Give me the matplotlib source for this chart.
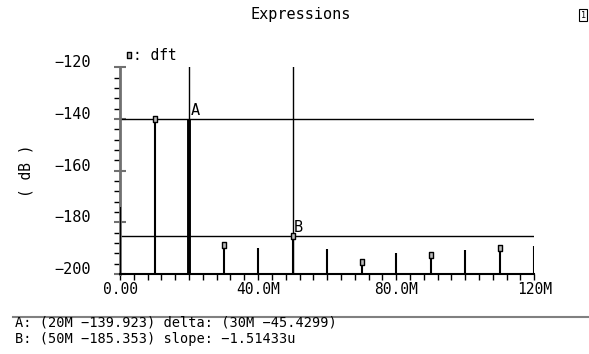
import matplotlib
matplotlib.use("Agg")
import matplotlib.pyplot as plt
from matplotlib.path import Path
import numpy as np

# ---- data ----
freq_mhz = [0, 10, 20, 30, 40, 50, 60, 70, 80, 90, 100, 110, 120]
dft_db = [-174.0, -140.2, -139.923, -188.6, -189.8, -185.353, -190.5,
          -195.3, -191.9, -192.5, -190.8, -190.0, -189.2]
marker_freqs = [10, 30, 50, 70, 90, 110]
cursor_a = (20, -139.923)
cursor_b = (50, -185.353)
x_ticks = [0, 40, 80, 120]
x_ticklabels = ["0.00", "40.0M", "80.0M", "120M"]
y_ticks = [-200, -180, -160, -140, -120]
y_ticklabels = ["\u2212200", "\u2212180", "\u2212160", "\u2212140", "\u2212120"]
readout_a = "A: (20M \u2212139.923) delta: (30M \u221245.4299)"
readout_b = "B: (50M \u2212185.353) slope: \u22121.51433u"

FONT = "DejaVu Sans Mono"
plt.rcParams['font.family'] = [FONT]

W, H = 589, 354
fig = plt.figure(figsize=(W / 100, H / 100), dpi=100)
ax = fig.add_axes([120 / W, 80 / H, (534.3 - 120) / W, (286.7 - 80) / H])
ax.set_xlim(0, 120)
ax.set_ylim(-200, -120)

# stems
ax.vlines(freq_mhz, -200, dft_db, colors="black", lw=1.5, zorder=3)
# markers
rect = Path([(-0.5, -1), (0.5, -1), (0.5, 1), (-0.5, 1), (-0.5, -1)],
            [Path.MOVETO, Path.LINETO, Path.LINETO, Path.LINETO, Path.CLOSEPOLY])
mvals = [dft_db[freq_mhz.index(f)] for f in marker_freqs]
ax.plot(marker_freqs, mvals, ls="none", marker=rect, ms=5, mfc="#bbbbbb",
        mec="black", mew=1, zorder=4, clip_on=False)

# cursors
for (cx, cy), lab in [(cursor_a, "A"), (cursor_b, "B")]:
    ax.axvline(cx, color="black", lw=1, zorder=2)
    ax.axhline(cy, color="black", lw=1, zorder=2)
    ax.text(cx + 0.4, cy + 0.3, lab, fontsize=11, ha="left", va="bottom",
            family=FONT)
ax.vlines([cursor_a[0]], -200, cursor_a[1], colors="black", lw=2.8, zorder=3)

# axes styling
for s in ["top", "right"]:
    ax.spines[s].set_visible(False)
ax.spines["left"].set_color("#707070")
ax.spines["left"].set_linewidth(2)
ax.spines["bottom"].set_linewidth(1.5)
ax.spines["bottom"].set_zorder(5)

ax.set_xticks(x_ticks)
ax.set_xticklabels(x_ticklabels, fontsize=10.5)
ax.set_xticks(np.arange(0, 121, 4), minor=True)
ax.set_yticks(y_ticks)
ax.set_yticklabels(y_ticklabels, fontsize=11)
for lbl in ax.get_yticklabels():
    lbl.set_va("baseline")
ax.set_yticks(np.arange(-200, -119, 4), minor=True)
ax.tick_params(axis="x", which="both", direction="out", length=4, width=1,
               pad=2)
ax.tick_params(axis="y", which="major", direction="inout", length=8, width=1.5,
               color="#707070", pad=17)
ax.tick_params(axis="y", which="minor", direction="out", length=4, width=1)

fig.text(26 / W, 1 - 171 / H, "( dB )", rotation=90, fontsize=10.5,
         ha="center", va="center")

# title and top-right icon
fig.text(301 / W, 1 - 15 / H, "Expressions", fontsize=11, ha="center",
         va="center")
fig.text(583 / W, 1 - 15 / H, "1", fontsize=6, ha="center", va="center",
         bbox=dict(boxstyle="square,pad=0.15", fc="white", ec="black", lw=0.8))

# legend
fig.lines.append(plt.Line2D([129 / W], [1 - 55 / H], transform=fig.transFigure,
                            ls="none", marker=rect, ms=5, mfc="#bbbbbb",
                            mec="black", mew=1))
fig.text(133 / W, 1 - 55 / H, ": dft", fontsize=10.5, ha="left", va="center")

# readout area
fig.lines.append(plt.Line2D([13 / W, 1.0], [1 - 316.7 / H] * 2,
                            transform=fig.transFigure, color="#808080", lw=1.5))
fig.text(15 / W, 1 - 323 / H, readout_a, fontsize=9.8, ha="left", va="center")
fig.text(15 / W, 1 - 339 / H, readout_b, fontsize=9.8, ha="left", va="center")

fig.savefig("out.png", dpi=100)
